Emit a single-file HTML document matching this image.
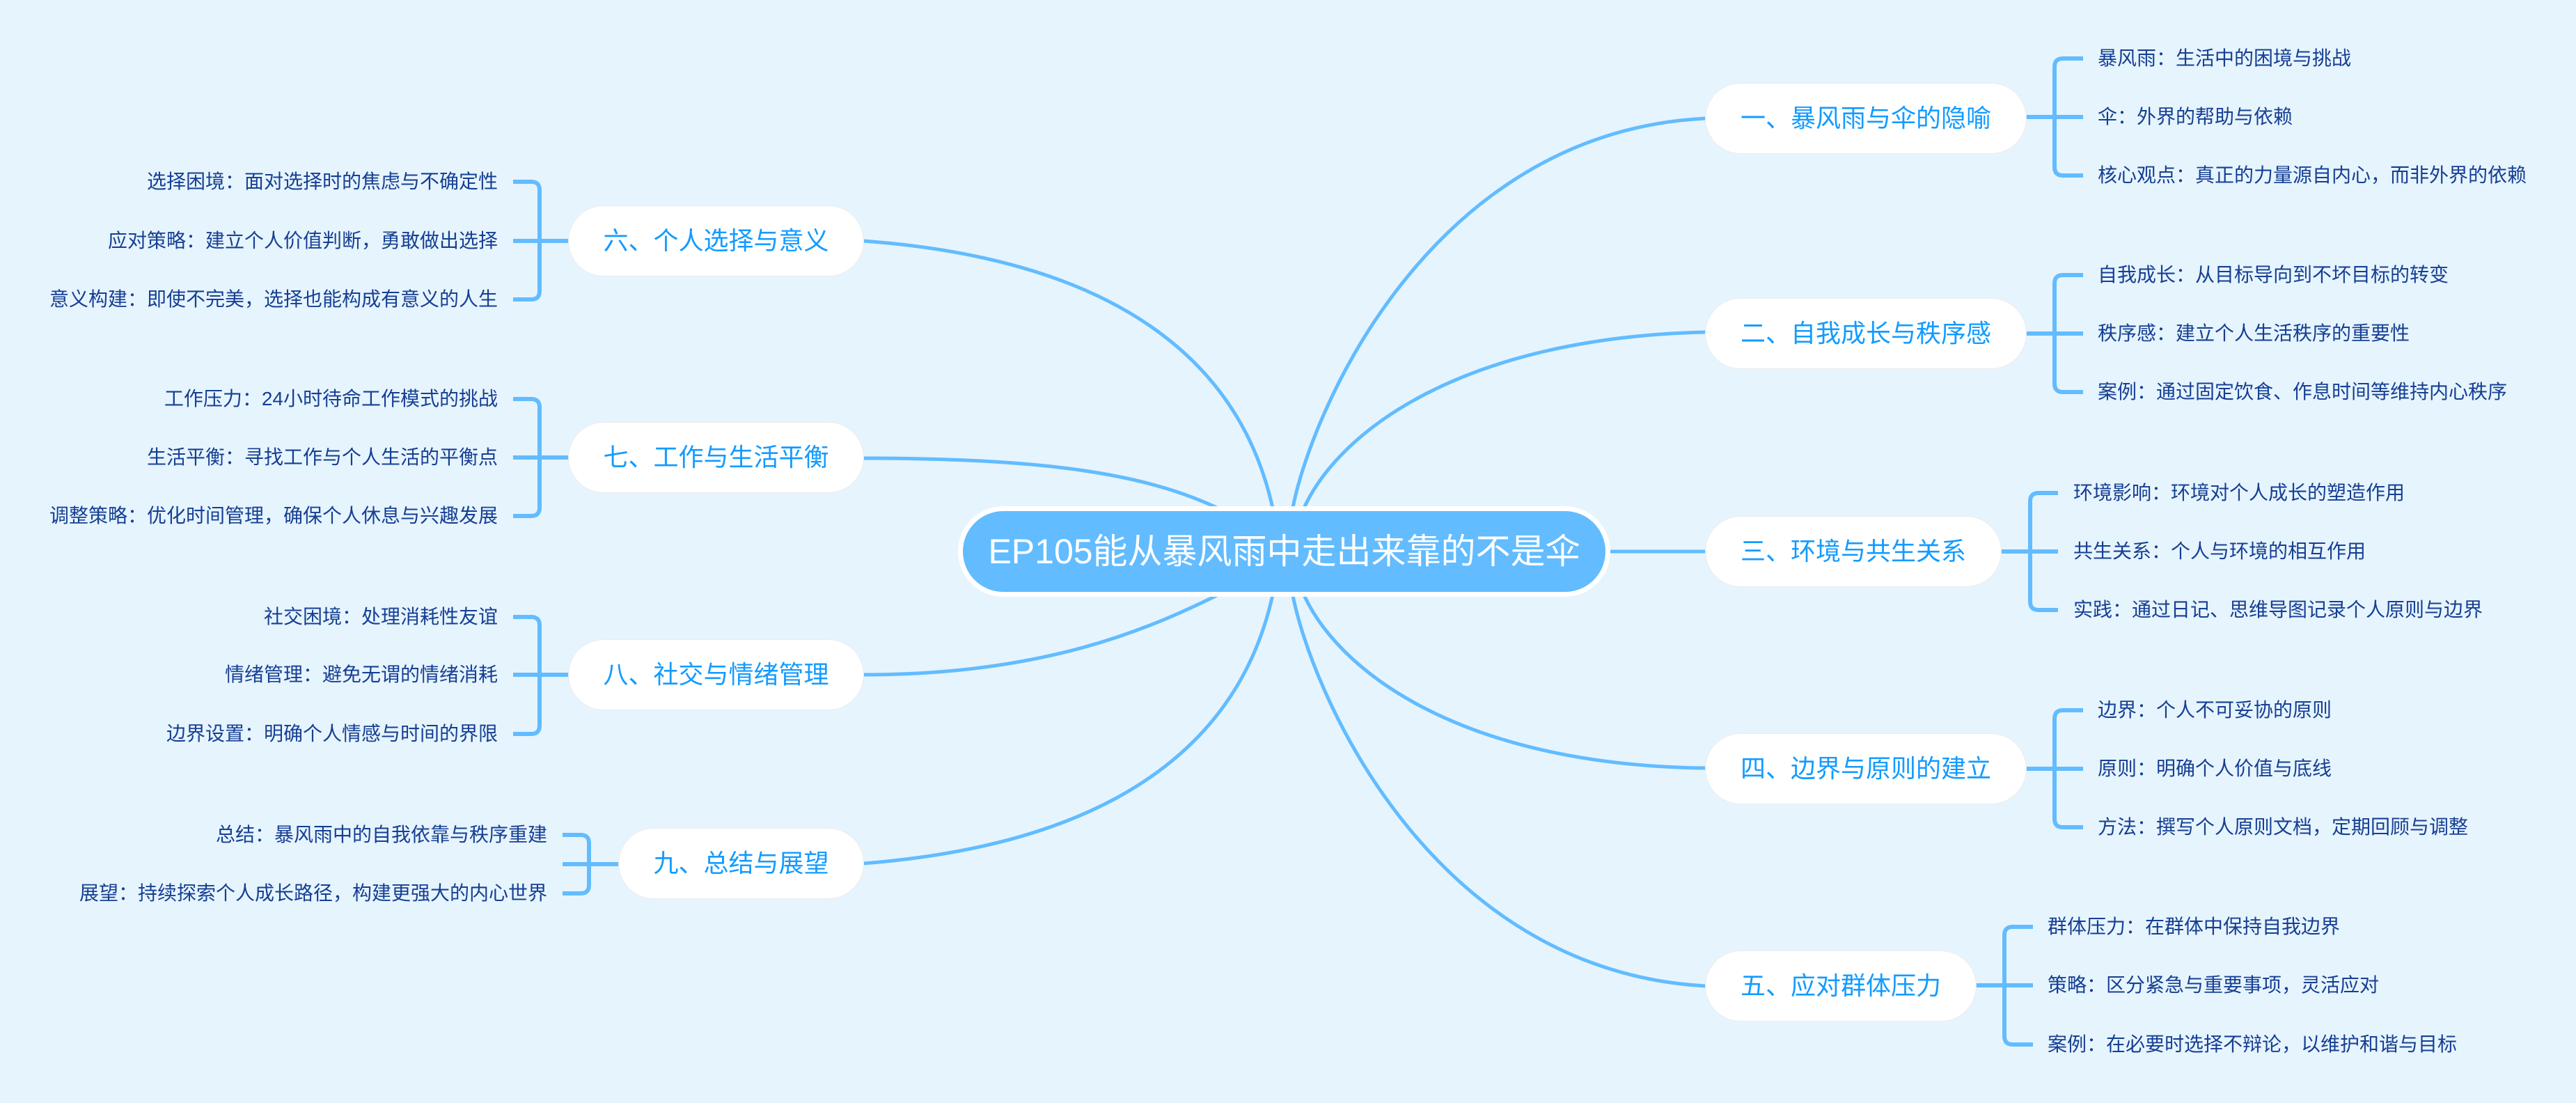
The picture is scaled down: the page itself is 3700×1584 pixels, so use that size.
<!DOCTYPE html>
<html><head><meta charset="utf-8"><style>
html,body{margin:0;padding:0}
body{width:3700px;height:1584px;background:#e6f4fe;position:relative;overflow:hidden;font-family:"Liberation Sans","Noto Sans CJK SC",sans-serif}
.n{position:absolute;height:100px;line-height:100px;background:#fff;border-radius:50px;color:#139bff;font-size:36px;text-align:center;box-shadow:0 0 0 1px #ececec;white-space:nowrap}
.l{position:absolute;font-size:28px;color:#163f93;white-space:nowrap;line-height:34px;height:34px}
.r{text-align:right}
#c{position:absolute;left:1383px;top:734px;width:923px;height:116px;border-radius:58px;background:#62bcff;border:0;box-shadow:0 0 0 7px #fff;color:#fff;font-size:50px;line-height:116px;text-align:center;white-space:nowrap}
</style></head><body>
<svg width="3700" height="1584" style="position:absolute;left:0;top:0" fill="none" stroke="#62bcff" stroke-linecap="butt">
<g stroke-width="5">
<path d="M1856 734 C1880 600,2050 190,2450 170"/>
<path d="M1871 734 C1920 620,2100 485,2450 477"/>
<path d="M2306 792 L2450 792"/>
<path d="M1871 850 C1920 964,2100 1099,2450 1103"/>
<path d="M1856 850 C1880 984,2050 1394,2450 1416"/>
<path d="M1829 734 C1800 600,1700 380,1240 346"/>
<path d="M1758 734 C1650 680,1500 658,1240 658"/>
<path d="M1758 850 C1650 904,1500 969,1240 969"/>
<path d="M1829 850 C1800 984,1700 1204,1240 1240"/>
</g>
<g stroke-width="6">
<path d="M2992 84 H2963 Q2951 84 2951 96 V240 Q2951 252 2963 252 H2992 M2910 168 H2992"/>
<path d="M2992 395 H2963 Q2951 395 2951 407 V551 Q2951 563 2963 563 H2992 M2910 479 H2992"/>
<path d="M2956 708 H2928 Q2916 708 2916 720 V864 Q2916 876 2928 876 H2956 M2874 792 H2956"/>
<path d="M2992 1020 H2963 Q2951 1020 2951 1032 V1176 Q2951 1188 2963 1188 H2992 M2910 1104 H2992"/>
<path d="M2920 1331 H2891 Q2879 1331 2879 1343 V1488 Q2879 1500 2891 1500 H2920 M2838 1415 H2920"/>
<path d="M737 261 H763 Q775 261 775 273 V418 Q775 430 763 430 H737 M817 346 H737"/>
<path d="M737 573 H763 Q775 573 775 585 V729 Q775 741 763 741 H737 M817 657 H737"/>
<path d="M737 886 H763 Q775 886 775 898 V1042 Q775 1054 763 1054 H737 M817 969 H737"/>
<path d="M808 1199 H834 Q846 1199 846 1211 V1271 Q846 1283 834 1283 H808 M889 1241 H808"/>
</g>
</svg>
<div id="c">EP105能从暴风雨中走出来靠的不是伞</div>

<div class="n" style="left:2450px;top:120px;width:460px">一、暴风雨与伞的隐喻</div>
<div class="n" style="left:2450px;top:429px;width:460px">二、自我成长与秩序感</div>
<div class="n" style="left:2450px;top:742px;width:424px">三、环境与共生关系</div>
<div class="n" style="left:2450px;top:1054px;width:460px">四、边界与原则的建立</div>
<div class="n" style="left:2450px;top:1366px;width:388px">五、应对群体压力</div>
<div class="n" style="left:817px;top:296px;width:423px">六、个人选择与意义</div>
<div class="n" style="left:817px;top:607px;width:423px">七、工作与生活平衡</div>
<div class="n" style="left:817px;top:919px;width:423px">八、社交与情绪管理</div>
<div class="n" style="left:889px;top:1190px;width:351px">九、总结与展望</div>

<div class="l" style="left:3013px;top:67px">暴风雨：生活中的困境与挑战</div>
<div class="l" style="left:3013px;top:151px">伞：外界的帮助与依赖</div>
<div class="l" style="left:3013px;top:235px">核心观点：真正的力量源自内心，而非外界的依赖</div>
<div class="l" style="left:3013px;top:378px">自我成长：从目标导向到不坏目标的转变</div>
<div class="l" style="left:3013px;top:462px">秩序感：建立个人生活秩序的重要性</div>
<div class="l" style="left:3013px;top:546px">案例：通过固定饮食、作息时间等维持内心秩序</div>
<div class="l" style="left:2978px;top:691px">环境影响：环境对个人成长的塑造作用</div>
<div class="l" style="left:2978px;top:775px">共生关系：个人与环境的相互作用</div>
<div class="l" style="left:2978px;top:859px">实践：通过日记、思维导图记录个人原则与边界</div>
<div class="l" style="left:3013px;top:1003px">边界：个人不可妥协的原则</div>
<div class="l" style="left:3013px;top:1087px">原则：明确个人价值与底线</div>
<div class="l" style="left:3013px;top:1171px">方法：撰写个人原则文档，定期回顾与调整</div>
<div class="l" style="left:2941px;top:1314px">群体压力：在群体中保持自我边界</div>
<div class="l" style="left:2941px;top:1398px">策略：区分紧急与重要事项，灵活应对</div>
<div class="l" style="left:2941px;top:1483px">案例：在必要时选择不辩论，以维护和谐与目标</div>

<div class="l r" style="right:2985px;top:244px">选择困境：面对选择时的焦虑与不确定性</div>
<div class="l r" style="right:2985px;top:329px">应对策略：建立个人价值判断，勇敢做出选择</div>
<div class="l r" style="right:2985px;top:413px">意义构建：即使不完美，选择也能构成有意义的人生</div>
<div class="l r" style="right:2985px;top:556px">工作压力：24小时待命工作模式的挑战</div>
<div class="l r" style="right:2985px;top:640px">生活平衡：寻找工作与个人生活的平衡点</div>
<div class="l r" style="right:2985px;top:724px">调整策略：优化时间管理，确保个人休息与兴趣发展</div>
<div class="l r" style="right:2985px;top:869px">社交困境：处理消耗性友谊</div>
<div class="l r" style="right:2985px;top:952px">情绪管理：避免无谓的情绪消耗</div>
<div class="l r" style="right:2985px;top:1037px">边界设置：明确个人情感与时间的界限</div>
<div class="l r" style="right:2914px;top:1182px">总结：暴风雨中的自我依靠与秩序重建</div>
<div class="l r" style="right:2914px;top:1266px">展望：持续探索个人成长路径，构建更强大的内心世界</div>
</body></html>
